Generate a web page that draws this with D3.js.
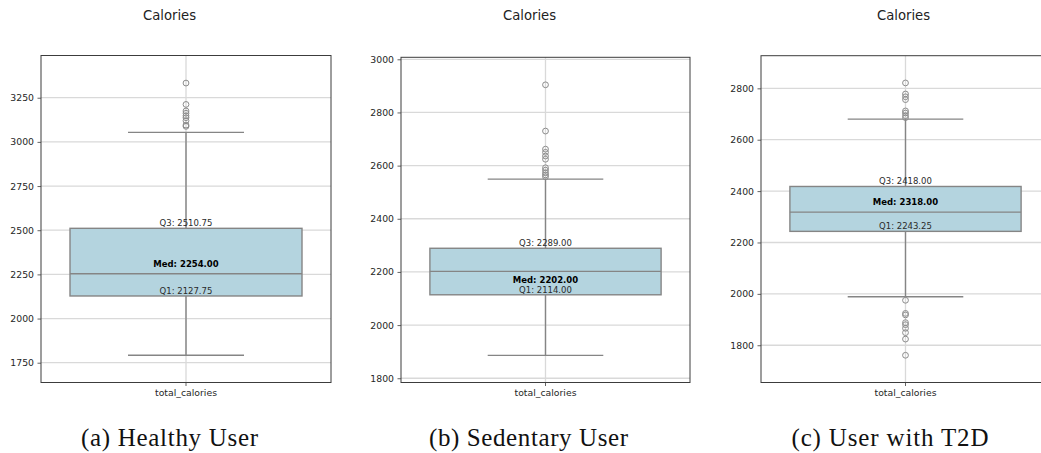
<!DOCTYPE html>
<html>
<head>
<meta charset="utf-8">
<script src="https://cdn.jsdelivr.net/npm/d3@7"></script>
<style>
  html, body { margin: 0; padding: 0; background: #fff; }
  svg { display: block; }
</style>
</head>
<body>
<div id="chart"></div>
<script>
// Daily calorie intake per user profile: one box plot per group.
const groups = ["(a) Healthy User", "(b) Sedentary User", "(c) User with T2D"];
const categories = ["total_calories"];
const chartTitle = "Calories";

const q1Values = [2127.75, 2114.00, 2243.25];
const medianValues = [2254.00, 2202.00, 2318.00];
const q3Values = [2510.75, 2289.00, 2418.00];
const meanValues = [2309, 2170, 2358];
const whiskerLow = [1792, 1886, 1989];
const whiskerHigh = [3054, 2549, 2680];

const outliersHealthy = [3333, 3212, 3175, 3162, 3148, 3137, 3120, 3095, 3088];
const outliersSedentary = [2904, 2730, 2662, 2650, 2636, 2624, 2592, 2583, 2573, 2565, 2558];
const outliersT2D = [2821, 2778, 2767, 2756, 2712, 2704, 2694, 2686,
                     1975, 1924, 1918, 1888, 1880, 1866, 1849, 1824, 1761];
const outliers = [outliersHealthy, outliersSedentary, outliersT2D];

const yTicksHealthy = [1750, 2000, 2250, 2500, 2750, 3000, 3250];
const yTicksSedentary = [1800, 2000, 2200, 2400, 2600, 2800, 3000];
const yTicksT2D = [1800, 2000, 2200, 2400, 2600, 2800];
const yTicks = [yTicksHealthy, yTicksSedentary, yTicksT2D];

const yDomains = [[1638, 3489], [1784, 3007.5], [1655, 2927]];

// ---- layout ----
const W = 1041, H = 453;
const panels = [
  { left: 41,  top: 55.5, width: 290, titleX: 169.5, captionX: 169.5, captionW: 177 },
  { left: 401, top: 57.3, width: 289, titleX: 529.5, captionX: 528.5, captionW: 199 },
  { left: 761, top: 55.7, width: 289, titleX: 903.5, captionX: 890,   captionW: 197 }
];
const axisBottom = 382.5;

const boxFill = "#b4d4df";
const boxStroke = "#858585";
const gridColor = "#d9d9d9";
const spineColor = "#3c3c3c";
const sans = "'DejaVu Sans', sans-serif";

const svg = d3.select("#chart").append("svg")
  .attr("width", W).attr("height", H)
  .attr("viewBox", `0 0 ${W} ${H}`);

svg.append("rect").attr("width", W).attr("height", H).attr("fill", "#fff");

groups.forEach((name, i) => {
  const p = panels[i];
  const g = svg.append("g");

  const x = d3.scaleBand().domain(categories)
    .range([p.left, p.left + p.width]).paddingInner(0).paddingOuter(0);
  const y = d3.scaleLinear().domain(yDomains[i]).range([axisBottom, p.top]);

  const cx = x(categories[0]) + x.bandwidth() / 2;
  const boxW = x.bandwidth() * 0.8;
  const capW = boxW / 2;

  // title
  g.append("text")
    .attr("x", p.titleX).attr("y", 20)
    .attr("text-anchor", "middle")
    .attr("font-family", sans).attr("font-size", 13.2)
    .attr("fill", "#222")
    .text(chartTitle);

  // horizontal grid
  g.append("g").selectAll("line").data(yTicks[i]).join("line")
    .attr("x1", p.left).attr("x2", p.left + p.width)
    .attr("y1", d => y(d)).attr("y2", d => y(d))
    .attr("stroke", gridColor).attr("stroke-width", 1.3);

  // vertical grid at the category tick
  g.append("line")
    .attr("x1", cx).attr("x2", cx)
    .attr("y1", p.top).attr("y2", axisBottom)
    .attr("stroke", gridColor).attr("stroke-width", 1.3);

  // y axis
  const yAxis = d3.axisLeft(y).tickValues(yTicks[i]).tickSize(3.5).tickPadding(3.5)
    .tickFormat(d3.format("d"));
  const ya = g.append("g").attr("transform", `translate(${p.left},0)`).call(yAxis);
  ya.select(".domain").remove();
  ya.selectAll(".tick line").attr("stroke", spineColor).attr("stroke-width", 0.8);
  ya.selectAll(".tick text")
    .attr("font-family", sans).attr("font-size", 9.3).attr("fill", "#262626");

  // x axis
  const xAxis = d3.axisBottom(x).tickSize(3.5).tickPadding(3.5);
  const xa = g.append("g").attr("transform", `translate(0,${axisBottom})`).call(xAxis);
  xa.select(".domain").remove();
  xa.selectAll(".tick line").attr("stroke", spineColor).attr("stroke-width", 0.8);
  xa.selectAll(".tick text")
    .attr("font-family", sans).attr("font-size", 9.3).attr("fill", "#262626");

  // whiskers
  g.append("line")
    .attr("x1", cx).attr("x2", cx)
    .attr("y1", y(whiskerHigh[i])).attr("y2", y(q3Values[i]))
    .attr("stroke", boxStroke).attr("stroke-width", 1.4);
  g.append("line")
    .attr("x1", cx).attr("x2", cx)
    .attr("y1", y(q1Values[i])).attr("y2", y(whiskerLow[i]))
    .attr("stroke", boxStroke).attr("stroke-width", 1.4);
  [whiskerHigh[i], whiskerLow[i]].forEach(v => {
    g.append("line")
      .attr("x1", cx - capW / 2).attr("x2", cx + capW / 2)
      .attr("y1", y(v)).attr("y2", y(v))
      .attr("stroke", boxStroke).attr("stroke-width", 1.4);
  });

  // box
  g.append("rect")
    .attr("x", cx - boxW / 2).attr("width", boxW)
    .attr("y", y(q3Values[i])).attr("height", y(q1Values[i]) - y(q3Values[i]))
    .attr("fill", boxFill).attr("stroke", boxStroke).attr("stroke-width", 1.4);

  // median
  g.append("line")
    .attr("x1", cx - boxW / 2).attr("x2", cx + boxW / 2)
    .attr("y1", y(medianValues[i])).attr("y2", y(medianValues[i]))
    .attr("stroke", boxStroke).attr("stroke-width", 1.4);

  // fliers
  g.append("g").selectAll("circle").data(outliers[i]).join("circle")
    .attr("cx", cx).attr("cy", d => y(d)).attr("r", 2.9)
    .attr("fill", "none").attr("stroke", "#8c8c8c").attr("stroke-width", 1);

  // spines
  g.append("rect")
    .attr("x", p.left).attr("y", p.top)
    .attr("width", p.width).attr("height", axisBottom - p.top)
    .attr("fill", "none").attr("stroke", spineColor).attr("stroke-width", 1);

  // quartile annotations
  const fmt = d3.format(".2f");
  g.append("text")
    .attr("x", cx).attr("y", y(q3Values[i]) - 2)
    .attr("text-anchor", "middle")
    .attr("font-family", sans).attr("font-size", 8.5).attr("fill", "#2a2a2a")
    .text("Q3: " + fmt(q3Values[i]));
  g.append("text")
    .attr("x", cx).attr("y", y(q1Values[i]) - 2)
    .attr("text-anchor", "middle")
    .attr("font-family", sans).attr("font-size", 8.5).attr("fill", "#2a2a2a")
    .text("Q1: " + fmt(q1Values[i]));
  g.append("text")
    .attr("x", cx).attr("y", y(meanValues[i]) + 3)
    .attr("text-anchor", "middle")
    .attr("font-family", sans).attr("font-size", 8.5).attr("font-weight", "bold")
    .attr("fill", "#000")
    .text("Med: " + fmt(medianValues[i]));

  // caption
  svg.append("text")
    .attr("x", p.captionX).attr("y", 446)
    .attr("text-anchor", "middle")
    .attr("font-family", "'Liberation Serif', serif").attr("font-size", 25)
    .attr("textLength", p.captionW).attr("lengthAdjust", "spacing")
    .attr("fill", "#111")
    .text(name);
});
</script>
</body>
</html>
